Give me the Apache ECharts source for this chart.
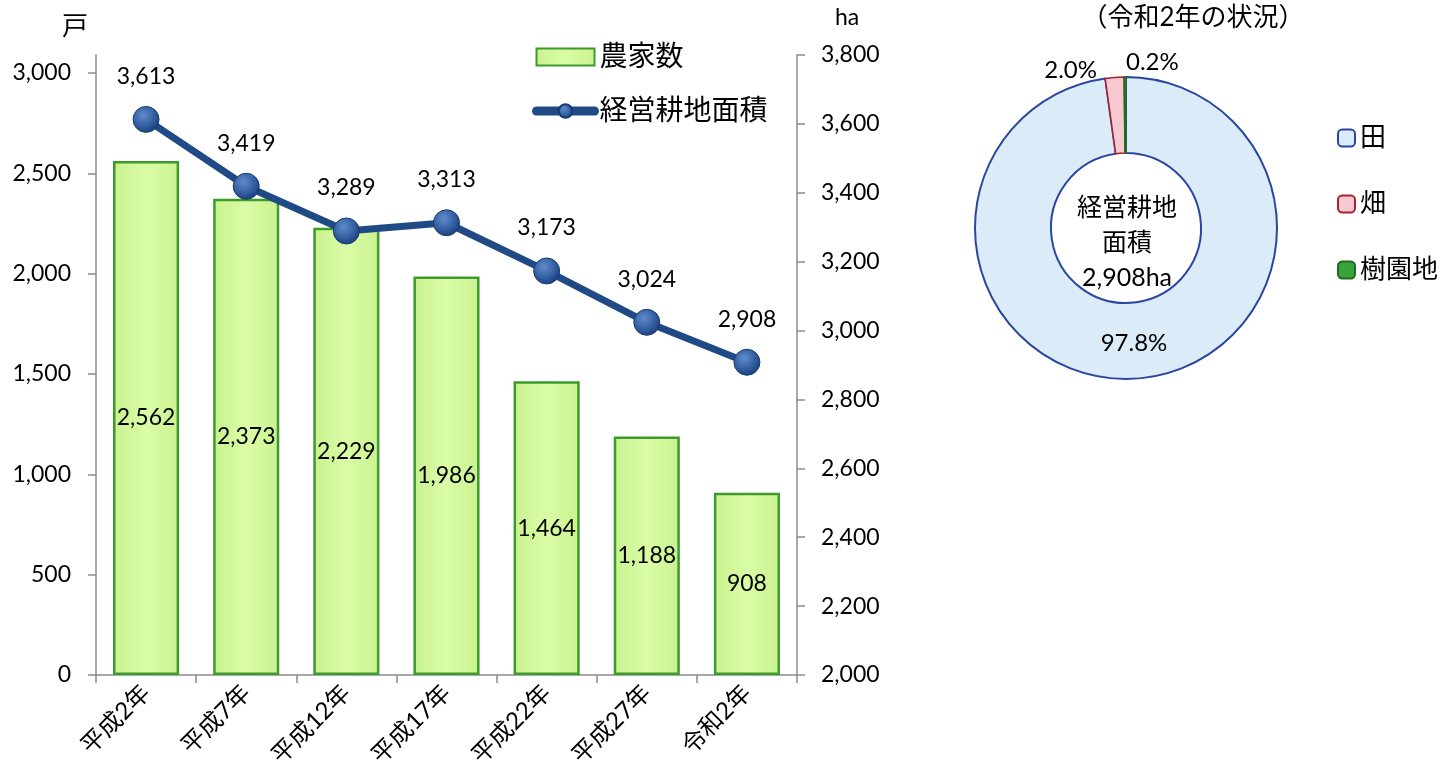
<!DOCTYPE html>
<html><head><meta charset="utf-8">
<script src="https://cdn.jsdelivr.net/npm/echarts@6/dist/echarts.min.js"></script>
<style>html,body{margin:0;padding:0;background:#fff}#c{width:1453px;height:783px}</style>
</head><body><div id="c"></div>
<script>
const categories = ['平成2年','平成7年','平成12年','平成17年','平成22年','平成27年','令和2年'];
const farmHouseholds = [2562, 2373, 2229, 1986, 1464, 1188, 908];
const cultivatedArea = [3613, 3419, 3289, 3313, 3173, 3024, 2908];
const leftTicks = {min: 0, max: 3000, interval: 500};
const rightTicks = {min: 2000, max: 3800, interval: 200};
const landTypes = ['田','畑','樹園地'];
const landShares = [97.8, 2.0, 0.2];

const FONT = "Lato, 'Noto Sans CJK JP', sans-serif";
const NUM = 23;
const fmt = v => v.toLocaleString('en-US');
const chart = echarts.init(document.getElementById('c'));
const axisGray = '#8c8c8c';
const gridPos = {left: 96, right: 1453 - 797, bottom: 108};
const lineBlue = '#1f4a86';
const ballFill = new echarts.graphic.RadialGradient(0.4, 0.35, 0.7, [
  {offset: 0, color: '#5f8ccc'}, {offset: 0.7, color: '#2b5597'}, {offset: 1, color: '#1a3a70'}]);

const option = {
  animation: false,
  textStyle: {fontFamily: FONT, color: '#000'},
  grid: [
    Object.assign({top: 73}, gridPos),
    Object.assign({top: 55}, gridPos)
  ],
  xAxis: [
    {type: 'category', gridIndex: 0, data: categories, boundaryGap: true,
     axisLine: {lineStyle: {color: axisGray, width: 1.5}},
     axisTick: {show: true, length: 8, lineStyle: {color: axisGray, width: 1.5}},
     axisLabel: {rotate: 45, fontSize: 24, color: '#000', margin: 14, fontFamily: FONT}},
    {type: 'category', gridIndex: 1, data: categories, show: false}
  ],
  yAxis: [
    {type: 'value', gridIndex: 0, min: leftTicks.min, max: leftTicks.max, interval: leftTicks.interval,
     axisLine: {show: false}, splitLine: {show: false},
     axisTick: {show: true, length: 8, lineStyle: {color: axisGray, width: 1.5}},
     axisLabel: {fontSize: NUM, color: '#000', margin: 25, formatter: v => fmt(v), fontFamily: FONT}},
    {type: 'value', gridIndex: 1, position: 'left', min: 0, max: 1,
     axisLine: {show: true, lineStyle: {color: axisGray, width: 1.5}},
     axisTick: {show: false}, axisLabel: {show: false}, splitLine: {show: false}},
    {type: 'value', gridIndex: 1, position: 'right', min: rightTicks.min, max: rightTicks.max, interval: rightTicks.interval,
     axisLine: {show: true, lineStyle: {color: axisGray, width: 1.5}}, splitLine: {show: false},
     axisTick: {show: true, length: 8, lineStyle: {color: axisGray, width: 1.5}},
     axisLabel: {fontSize: NUM, color: '#000', margin: 24, formatter: v => fmt(v), fontFamily: FONT}}
  ],
  legend: [
    {orient: 'vertical', left: 527, top: 38, itemGap: 26, itemWidth: 58, itemHeight: 17,
     textStyle: {fontSize: 28, color: '#000', fontFamily: FONT},
     data: [{name: '農家数', icon: 'rect'},
            {name: '経営耕地面積', itemStyle: {color: ballFill}, lineStyle: {width: 9, color: lineBlue, cap: 'round'}}]},
    {orient: 'vertical', left: 1332, top: 120, itemGap: 40, itemWidth: 17, itemHeight: 17,
     textStyle: {fontSize: 26, color: '#000', fontFamily: FONT},
     data: landTypes}
  ],
  title: {text: '（令和2年の状況）', left: 1188, top: 0, textAlign: 'center',
          textStyle: {fontSize: 26, fontWeight: 'normal', color: '#000', fontFamily: FONT}},
  graphic: [
    {type: 'text', left: 62, top: 12, style: {text: '戸', font: "26px 'Noto Sans CJK JP'", fill: '#000'}},
    {type: 'text', left: 835, top: 6, style: {text: 'ha', font: "23px " + FONT, fill: '#000'}},
    {type: 'text', x: 1127, y: 243, style: {text: '経営耕地\n面積\n' + fmt(cultivatedArea[cultivatedArea.length - 1]) + 'ha',
      align: 'center', verticalAlign: 'middle', lineHeight: 35, font: "25px " + FONT, fill: '#000'}}
  ],
  series: [
    {name: '農家数', type: 'bar', xAxisIndex: 0, yAxisIndex: 0, data: farmHouseholds, barWidth: '66%',
     itemStyle: {
       color: new echarts.graphic.LinearGradient(0, 0, 1, 0, [
         {offset: 0, color: '#c9f28f'}, {offset: 0.5, color: '#dafca6'}, {offset: 1, color: '#c9f28f'}]),
       borderColor: '#3d9a2c', borderWidth: 2.5},
     label: {show: true, position: 'inside', fontSize: NUM, color: '#000', formatter: p => fmt(p.value), fontFamily: FONT}},
    {name: '経営耕地面積', type: 'line', xAxisIndex: 1, yAxisIndex: 2, data: cultivatedArea,
     symbol: 'circle', symbolSize: 26,
     lineStyle: {color: lineBlue, width: 7},
     itemStyle: {color: ballFill, borderColor: '#1a3a70', borderWidth: 1},
     label: {show: true, position: 'top', distance: 18, fontSize: NUM, color: '#000', formatter: p => fmt(p.value), fontFamily: FONT}},
    {name: '経営耕地', type: 'pie', center: [1126, 228], radius: [75, 151], startAngle: 90, clockwise: true,
     avoidLabelOverlap: false,
     label: {fontSize: 24, color: '#000', fontFamily: FONT, formatter: p => p.value.toFixed(1) + '%'},
     labelLine: {show: false},
     labelLayout: function (p) {
       if (p.dataIndex === 1) return {x: 1097, y: 70, align: 'right', verticalAlign: 'middle'};
       if (p.dataIndex === 2) return {x: 1126, y: 62, align: 'left', verticalAlign: 'middle'};
       return {};
     },
     data: landTypes.map((n, i) => ({name: n, value: landShares[i]})).map((d, i) => {
       const styles = [
         {itemStyle: {color: '#dcebf8', borderColor: '#2a47a0', borderWidth: 2}, label: {position: 'inside'}},
         {itemStyle: {color: '#f6c9d0', borderColor: '#a8202e', borderWidth: 1.5}, label: {position: 'outside'}},
         {itemStyle: {color: '#3aa23a', borderColor: '#1f6b1f', borderWidth: 1.5}, label: {position: 'outside'}}
       ];
       return Object.assign(d, styles[i]);
     })}
  ]
};
chart.setOption(option);
</script></body></html>
